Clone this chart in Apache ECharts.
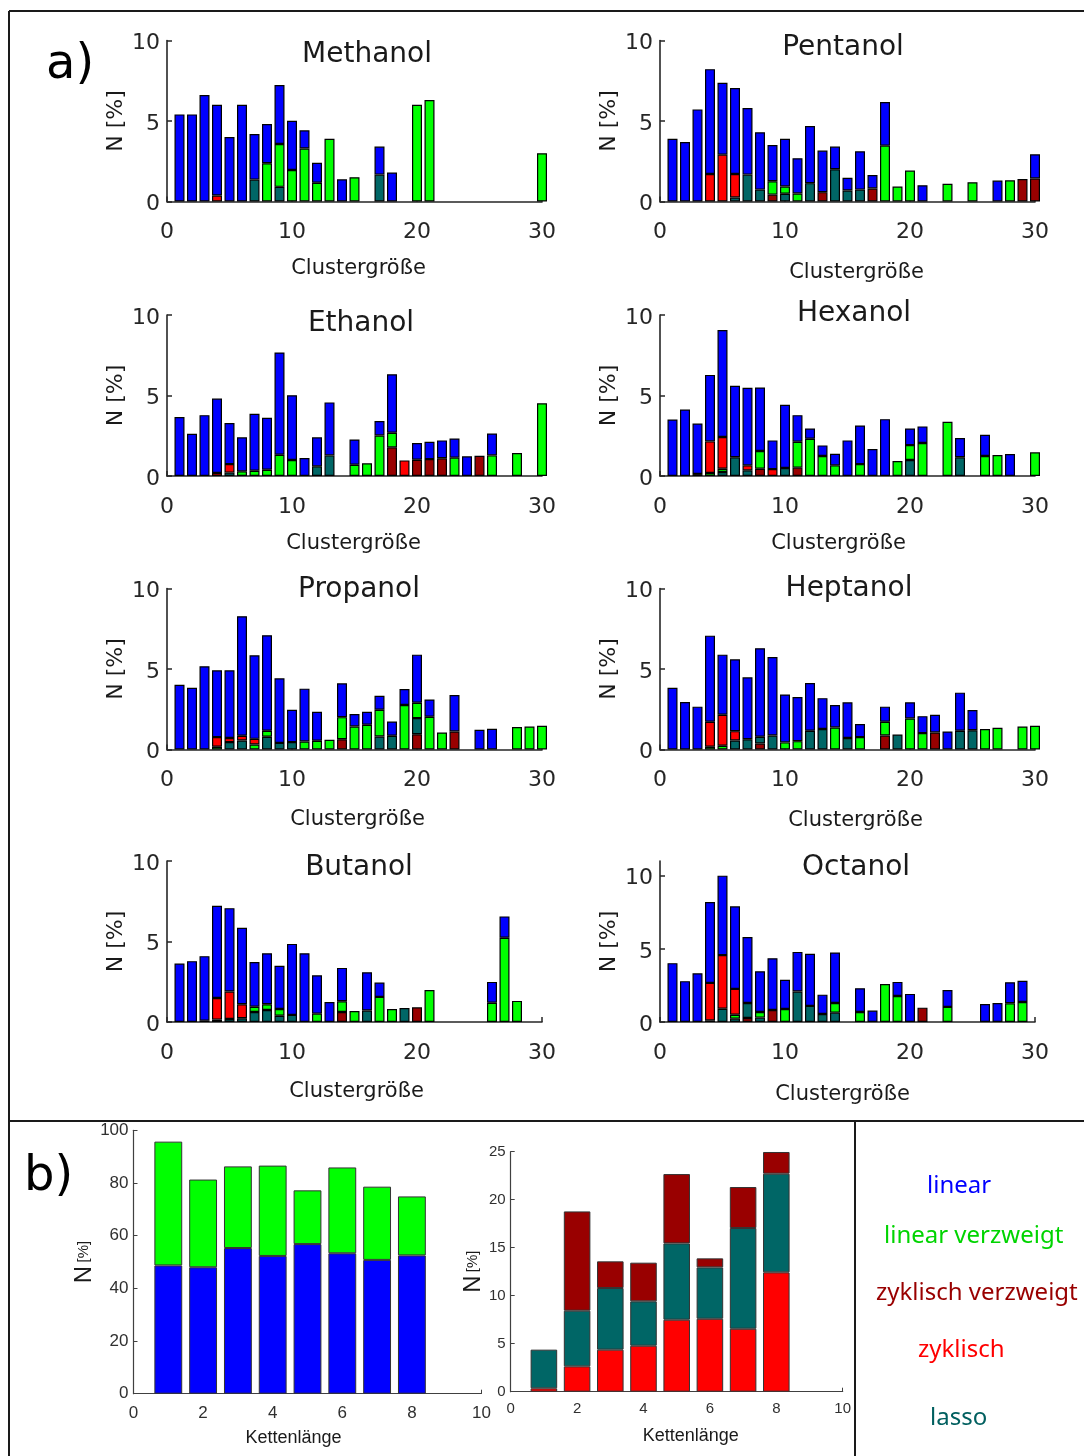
<!DOCTYPE html>
<html>
<head>
<meta charset="utf-8">
<script src="https://cdn.jsdelivr.net/npm/echarts@6/dist/echarts.min.js"></script>
<style>
  html, body { margin: 0; padding: 0; background: #fff; }
  #chart { width: 1084px; height: 1456px; }
</style>
</head>
<body>
<div id="chart"></div>
<script>
// ---------------- data ----------------
const _ = null;

// x categories: cluster size 0..30 (bars at 1..30)
const clusterSizes = ['0','1','2','3','4','5','6','7','8','9','10','11','12','13','14','15',
  '16','17','18','19','20','21','22','23','24','25','26','27','28','29','30'];

// N [%] per cluster size 1..30, one array per structure type
const methanolLinear   = [5.41,5.41,6.61,5.64,4.01,6.01,2.83,2.43,3.66,3.06,1.13,1.24,_,1.38,_,_,1.74,1.80,_,_,_,_,_,_,_,_,_,_,_,_];
const methanolLinVerz  = [_,_,_,_,_,_,_,2.38,2.66,1.96,3.29,1.16,3.90,_,1.51,_,_,_,_,6.01,6.30,_,_,_,_,_,_,_,_,3.00];
const methanolZykVerz  = [_,_,_,_,_,_,_,_,_,_,_,_,_,_,_,_,_,_,_,_,_,_,_,_,_,_,_,_,_,_];
const methanolZyklisch = [_,_,_,0.37,_,_,_,_,_,_,_,_,_,_,_,_,_,_,_,_,_,_,_,_,_,_,_,_,_,_];
const methanolLasso    = [_,_,_,_,_,_,1.36,_,0.91,_,_,_,_,_,_,_,1.67,_,_,_,_,_,_,_,_,_,_,_,_,_];

const ethanolLinear    = [3.66,2.62,3.78,4.62,2.55,2.11,3.53,3.23,6.35,4.03,1.12,1.80,3.29,_,1.57,_,0.89,3.63,_,1.04,1.08,1.11,1.19,1.22,_,1.36,_,_,_,_];
const ethanolLinVerz   = [_,_,_,_,_,0.29,0.33,0.39,1.32,0.99,_,_,_,_,0.70,0.79,2.52,0.91,_,_,_,_,1.14,_,_,1.28,_,1.43,_,4.52];
const ethanolZykVerz   = [_,_,_,_,_,_,_,_,_,_,_,_,_,_,_,_,_,1.78,_,1.01,1.05,1.10,_,_,1.26,_,_,_,_,_];
const ethanolZyklisch  = [_,_,_,0.19,0.53,_,_,_,_,_,_,_,_,_,_,_,_,_,0.97,_,_,_,_,_,_,_,_,_,_,_];
const ethanolLasso     = [_,_,_,_,0.21,_,_,_,_,_,_,0.60,1.28,_,_,_,_,_,_,_,_,_,_,_,_,_,_,_,_,_];

const propanolLinear   = [4.02,3.84,5.17,4.15,4.21,7.43,5.19,5.94,4.01,2.01,3.28,1.80,_,2.10,0.77,0.80,0.87,0.89,1.00,2.99,1.08,_,2.26,_,1.22,1.29,_,_,_,_];
const propanolLinVerz  = [_,_,_,0.17,_,_,0.31,0.37,_,_,0.50,0.54,0.60,1.37,1.43,1.54,1.66,_,2.76,0.95,2.03,1.06,_,_,_,_,_,1.39,1.43,1.47];
const propanolZykVerz  = [_,_,_,_,_,_,_,_,_,_,_,_,_,0.64,_,_,_,_,_,0.95,_,_,1.12,_,_,_,_,_,_,_];
const propanolZyklisch = [_,_,_,0.60,0.25,0.29,0.35,_,_,_,_,_,_,_,_,_,_,_,_,_,_,_,_,_,_,_,_,_,_,_];
const propanolLasso    = [_,_,_,_,0.46,0.56,_,0.79,0.41,0.46,_,_,_,_,_,_,0.81,0.85,_,1.00,_,_,_,_,_,_,_,_,_,_];

const butanolLinear    = [3.63,3.78,4.01,5.73,5.18,4.75,2.78,3.17,2.68,4.41,4.27,2.38,1.24,2.07,_,2.38,0.89,_,_,_,_,_,_,_,_,1.29,1.33,_,_,_];
const butanolLinVerz   = [_,_,_,0.15,_,_,0.33,0.35,0.42,_,_,0.52,_,0.67,0.68,_,1.56,0.81,_,_,1.99,_,_,_,_,1.20,5.23,1.31,_,_];
const butanolZykVerz   = [_,_,0.08,_,_,_,_,_,_,_,_,_,_,0.62,_,_,_,_,_,0.91,_,_,_,_,_,_,_,_,_,_];
const butanolZyklisch  = [_,_,_,1.34,1.70,0.87,_,_,_,_,_,_,_,_,_,_,_,_,_,_,_,_,_,_,_,_,_,_,_,_];
const butanolLasso     = [_,_,_,_,0.19,0.23,0.62,0.75,0.39,0.44,_,_,_,_,_,0.71,_,_,0.87,_,_,_,_,_,_,_,_,_,_,_];

const pentanolLinear   = [3.90,3.70,5.72,6.51,4.47,5.34,4.14,3.56,2.25,2.97,2.19,3.55,2.58,1.41,0.79,2.38,0.84,2.71,_,_,1.01,_,_,_,_,_,1.30,_,_,1.50];
const pentanolLinVerz  = [_,_,_,_,_,_,_,_,0.83,0.45,0.50,_,_,_,_,_,_,3.47,0.93,1.92,_,_,1.10,_,1.20,_,_,1.32,_,_];
const pentanolZykVerz  = [_,_,_,_,_,_,_,_,0.43,_,_,_,0.58,_,_,_,0.81,_,_,_,_,_,_,_,_,_,_,_,1.40,1.43];
const pentanolZyklisch = [_,_,_,1.71,2.91,1.46,_,_,_,_,_,_,_,_,_,_,_,_,_,_,_,_,_,_,_,_,_,_,_,_];
const pentanolLasso    = [_,_,_,_,_,0.25,1.67,0.74,_,0.48,_,1.14,_,2.00,0.68,0.74,_,_,_,_,_,_,_,_,_,_,_,_,_,_];

const hexanolLinear    = [3.51,4.13,3.14,4.13,6.65,4.44,4.82,3.95,1.78,3.92,1.65,0.64,0.66,0.72,2.21,2.40,1.67,3.53,_,1.03,1.03,_,_,1.20,_,1.32,_,1.36,_,_];
const hexanolLinVerz   = [_,_,_,0.19,0.20,_,_,1.10,_,_,1.61,2.31,1.24,0.66,_,0.74,_,_,0.93,0.93,2.05,_,3.37,_,_,1.24,1.30,_,_,1.47];
const hexanolZykVerz   = [_,_,0.12,_,_,_,_,0.45,_,_,0.52,_,_,_,_,_,_,_,_,_,_,_,_,_,_,_,_,_,_,_];
const hexanolZyklisch  = [_,_,_,1.96,1.97,_,0.31,_,0.43,_,_,_,_,_,_,_,_,_,_,_,_,_,_,_,_,_,_,_,_,_];
const hexanolLasso     = [_,_,_,_,0.25,1.16,0.35,_,_,0.50,_,_,_,_,_,_,_,_,_,0.99,_,_,_,1.16,_,_,_,_,_,_];

const heptanolLinear   = [3.84,2.95,2.66,5.35,3.73,4.46,3.84,5.50,4.88,2.98,2.74,2.97,1.92,1.39,2.22,0.81,_,0.94,_,1.00,1.05,1.10,1.12,2.37,1.25,_,_,_,_,_];
const heptanolLinVerz  = [_,_,_,0.17,0.23,_,_,_,_,0.44,0.52,_,_,1.37,_,0.77,_,0.85,_,1.93,1.02,_,_,_,_,1.27,1.35,_,1.43,1.47];
const heptanolZykVerz  = [_,_,_,_,_,_,_,0.37,_,_,_,_,_,_,_,_,_,0.87,_,_,_,1.06,_,_,_,_,_,_,_,_];
const heptanolZyklisch = [_,_,_,1.55,1.93,0.58,_,_,_,_,_,_,_,_,_,_,_,_,_,_,_,_,_,_,_,_,_,_,_,_];
const heptanolLasso    = [_,_,_,_,_,0.56,0.64,0.42,0.87,_,_,1.16,1.27,_,0.71,_,_,_,0.93,_,_,_,_,1.16,1.20,_,_,_,_,_];

const octanolLinear    = [4.02,2.79,3.33,5.53,5.43,5.64,4.50,2.79,3.54,1.99,2.71,3.56,1.32,3.45,_,1.63,0.78,_,0.96,1.92,_,_,1.16,_,_,1.23,1.30,1.44,1.44,_];
const octanolLinVerz   = [_,_,_,0.11,_,0.27,_,0.38,_,0.89,_,_,_,0.66,_,0.68,_,2.60,1.78,_,_,_,1.03,_,_,_,_,1.28,1.37,_];
const octanolZykVerz   = [_,_,_,_,_,_,0.27,_,0.82,_,_,_,_,_,_,_,_,_,_,_,0.98,_,_,_,_,_,_,_,_,_];
const octanolZyklisch  = [_,_,_,2.56,3.66,1.76,_,_,_,_,_,_,_,_,_,_,_,_,_,_,_,_,_,_,_,_,_,_,_,_];
const octanolLasso     = [_,_,_,_,0.91,0.23,1.03,0.30,_,_,2.08,1.10,0.55,0.64,_,_,_,_,_,_,_,_,_,_,_,_,_,_,_,_];

// b) totals per chain length 1..8
const chainLengths = ['0','1','2','3','4','5','6','7','8','9','10'];
const chainLinear    = [48.7, 48.0, 55.3, 52.3, 56.8, 53.3, 50.8, 52.5];
const chainLinVerz   = [47.0, 33.3, 31.0, 34.3, 20.4, 32.6, 27.8, 22.4];
const chainZyklisch  = [0.35, 2.64, 4.38, 4.79, 7.50, 7.60, 6.56, 12.43];
const chainLasso     = [4.03, 5.80, 6.42, 4.62, 7.95, 5.35, 10.49, 10.28];
const chainZykVerz   = [_,    10.34, 2.78, 4.03, 7.22, 0.94, 4.27, 2.26];

// ---------------- styling / layout ----------------
const colors = {
  'linear': '#0000ff',
  'linear verzweigt': '#00ff00',
  'zyklisch verzweigt': '#990000',
  'zyklisch': '#ff0000',
  'lasso': '#006666'
};
const legendColors = {
  'linear': '#0000ff',
  'linear verzweigt': '#00d400',
  'zyklisch verzweigt': '#990000',
  'zyklisch': '#ff0000',
  'lasso': '#005f5f'
};

// stacking order from the baseline upwards
const stackOrder = ['zyklisch verzweigt', 'lasso', 'linear verzweigt', 'zyklisch', 'linear'];

const panels = [
  { title: 'Methanol', values: { 'linear': methanolLinear, 'linear verzweigt': methanolLinVerz, 'zyklisch verzweigt': methanolZykVerz, 'zyklisch': methanolZyklisch, 'lasso': methanolLasso } },
  { title: 'Pentanol', values: { 'linear': pentanolLinear, 'linear verzweigt': pentanolLinVerz, 'zyklisch verzweigt': pentanolZykVerz, 'zyklisch': pentanolZyklisch, 'lasso': pentanolLasso } },
  { title: 'Ethanol',  values: { 'linear': ethanolLinear,  'linear verzweigt': ethanolLinVerz,  'zyklisch verzweigt': ethanolZykVerz,  'zyklisch': ethanolZyklisch,  'lasso': ethanolLasso } },
  { title: 'Hexanol',  values: { 'linear': hexanolLinear,  'linear verzweigt': hexanolLinVerz,  'zyklisch verzweigt': hexanolZykVerz,  'zyklisch': hexanolZyklisch,  'lasso': hexanolLasso } },
  { title: 'Propanol', values: { 'linear': propanolLinear, 'linear verzweigt': propanolLinVerz, 'zyklisch verzweigt': propanolZykVerz, 'zyklisch': propanolZyklisch, 'lasso': propanolLasso } },
  { title: 'Heptanol', values: { 'linear': heptanolLinear, 'linear verzweigt': heptanolLinVerz, 'zyklisch verzweigt': heptanolZykVerz, 'zyklisch': heptanolZyklisch, 'lasso': heptanolLasso } },
  { title: 'Butanol',  values: { 'linear': butanolLinear,  'linear verzweigt': butanolLinVerz,  'zyklisch verzweigt': butanolZykVerz,  'zyklisch': butanolZyklisch,  'lasso': butanolLasso } },
  { title: 'Octanol',  values: { 'linear': octanolLinear,  'linear verzweigt': octanolLinVerz,  'zyklisch verzweigt': octanolZykVerz,  'zyklisch': octanolZyklisch,  'lasso': octanolLasso } }
];

const panelLayout = [
  { left: 167, top: 40.5, ymax: 10, titleX: 367, titleY: 52,  xGap: 57, xDx: 4 },
  { left: 660, top: 40.5, ymax: 10, titleX: 843, titleY: 45,  xGap: 61, xDx: 9 },
  { left: 167, top: 315,  ymax: 10, titleX: 361, titleY: 321, xGap: 57, xDx: -1 },
  { left: 660, top: 315,  ymax: 10, titleX: 854, titleY: 311, xGap: 57, xDx: -9 },
  { left: 167, top: 588.5,ymax: 10, titleX: 359, titleY: 587, xGap: 60, xDx: 3 },
  { left: 660, top: 588.5,ymax: 10, titleX: 849, titleY: 586, xGap: 61, xDx: 8 },
  { left: 167, top: 861,  ymax: 10, titleX: 359, titleY: 865, xGap: 59, xDx: 2 },
  { left: 660, top: 861,  ymax: 11, titleX: 856, titleY: 865, xGap: 62, xDx: -5 }
];
const PANEL_W = 375, PANEL_H = 161;

const axisColor = '#262626';
const fontA = 'DejaVu Sans';
const fontB = 'Liberation Sans, Arial, sans-serif';

function shiftPad(dx) {
  return dx >= 0 ? [0, 0, 0, 2 * dx] : [0, -2 * dx, 0, 0];
}
const everyTenth = (idx) => idx % 10 === 0;
const everySecond = (idx) => idx % 2 === 0;

const option = {
  animation: false,
  backgroundColor: '#ffffff',
  title: [], grid: [], xAxis: [], yAxis: [], series: [], legend: [], graphic: []
};

// ---------------- a) cluster size histograms ----------------
panels.forEach((p, i) => {
  const L = panelLayout[i];
  option.grid.push({ left: L.left, top: L.top, width: PANEL_W, height: PANEL_H });
  option.title.push({
    text: p.title, left: L.titleX, top: L.titleY - 11, textAlign: 'center', padding: 0,
    textStyle: { fontFamily: fontA, fontSize: 28, fontWeight: 'normal', color: '#1a1a1a' }
  });
  option.xAxis.push({
    type: 'category', gridIndex: i, data: clusterSizes, boundaryGap: false,
    name: 'Clustergröße', nameLocation: 'middle', nameGap: L.xGap,
    nameTextStyle: { fontFamily: fontA, fontSize: 21, color: '#1a1a1a', padding: shiftPad(L.xDx) },
    axisLine: { lineStyle: { color: axisColor, width: 1.6 } },
    axisTick: { inside: true, length: 5, interval: everyTenth, lineStyle: { color: axisColor, width: 1.5 } },
    axisLabel: { interval: everyTenth, fontFamily: fontA, fontSize: 22, color: axisColor, margin: 20 },
    splitLine: { show: false }
  });
  option.yAxis.push({
    type: 'value', gridIndex: i, min: 0, max: L.ymax, interval: 5,
    name: 'N [%]', nameLocation: 'middle', nameRotate: 90, nameGap: 40,
    nameTextStyle: { fontFamily: fontA, fontSize: 22, color: '#1a1a1a' },
    axisLine: { show: true, lineStyle: { color: axisColor, width: 1.6 } },
    axisTick: { show: true, inside: true, length: 5, lineStyle: { color: axisColor, width: 1.5 } },
    axisLabel: {
      margin: 7, showMaxLabel: L.ymax === 10,
      formatter: '{v|{value}}',
      rich: { v: { fontFamily: fontA, fontSize: 22, color: axisColor, padding: [6, 0, 0, 0] } }
    },
    splitLine: { show: false }
  });
  stackOrder.forEach((kind) => {
    option.series.push({
      type: 'bar', name: kind, xAxisIndex: i, yAxisIndex: i, stack: 'cluster' + i,
      barWidth: '80%', clip: true,
      data: [null].concat(p.values[kind]),
      itemStyle: { color: colors[kind], borderColor: '#000', borderWidth: 1.2 },
      emphasis: { disabled: true }
    });
  });
});

// ---------------- b) chain length summaries ----------------
const bGrids = [
  { left: 133.5, top: 1130.3, width: 348, height: 263.4, ymax: 100, yInt: 20, fs: 17, yGap: 30, xDx: -14, lm: 11 },
  { left: 510.7, top: 1151.7, width: 332, height: 240,   ymax: 25,  yInt: 5,  fs: 15, yGap: 22, xDx: 14, lm: 10 }
];
bGrids.forEach((g, j) => {
  const gi = panels.length + j;
  option.grid.push({ left: g.left, top: g.top, width: g.width, height: g.height });
  option.xAxis.push({
    type: 'category', gridIndex: gi, data: chainLengths, boundaryGap: false,
    name: 'Kettenlänge', nameLocation: 'middle', nameGap: 35,
    nameTextStyle: { fontFamily: fontB, fontSize: 18, color: '#1a1a1a', padding: shiftPad(g.xDx) },
    axisLine: { lineStyle: { color: '#404040', width: 1.2 } },
    axisTick: { inside: true, length: 4, interval: everySecond, lineStyle: { color: '#404040' } },
    axisLabel: { interval: everySecond, fontFamily: fontB, fontSize: g.fs, color: '#303030', margin: g.lm },
    splitLine: { show: false }
  });
  option.yAxis.push({
    type: 'value', gridIndex: gi, min: 0, max: g.ymax, interval: g.yInt,
    name: '{n|N} {p|[%]}', nameLocation: 'middle', nameRotate: 90, nameGap: g.yGap,
    nameTextStyle: { fontFamily: fontB, color: '#1a1a1a', rich: { n: { fontSize: 24, fontFamily: fontB }, p: { fontSize: 15, fontFamily: fontB } } },
    axisLine: { show: true, lineStyle: { color: '#404040', width: 1.2 } },
    axisTick: { show: true, inside: true, length: 4, lineStyle: { color: '#404040' } },
    axisLabel: { fontFamily: fontB, fontSize: g.fs, color: '#303030', margin: 5 },
    splitLine: { show: false }
  });
});

function chainSeries(name, values, gi) {
  return {
    type: 'bar', name: name, xAxisIndex: gi, yAxisIndex: gi, stack: 'chain' + gi,
    barWidth: '80%', data: [null].concat(values, [null, null]),
    itemStyle: { color: colors[name], borderColor: '#333', borderWidth: 1 },
    emphasis: { disabled: true }
  };
}
option.series.push(
  chainSeries('linear', chainLinear, 8),
  chainSeries('linear verzweigt', chainLinVerz, 8),
  chainSeries('zyklisch', chainZyklisch, 9),
  chainSeries('lasso', chainLasso, 9),
  chainSeries('zyklisch verzweigt', chainZykVerz, 9)
);

// ---------------- legend (coloured names only) ----------------
const legendNames = ['linear', 'linear verzweigt', 'zyklisch verzweigt', 'zyklisch', 'lasso'];
const legendSpots = [[922, 1189], [879, 1239], [871, 1296], [913, 1353], [925, 1421]];
legendNames.forEach((name, k) => {
  option.legend.push({
    data: [{ name: name, textStyle: { color: legendColors[name] } }],
    left: legendSpots[k][0], top: legendSpots[k][1] - 15, padding: 0,
    icon: 'none', itemWidth: 0, itemHeight: 0, selectedMode: false,
    textStyle: { fontFamily: 'Noto Sans', fontSize: 24 }
  });
});

// ---------------- frame and panel letters ----------------
const frameStyle = { stroke: '#1a1a1a', lineWidth: 2 };
option.graphic = [
  { type: 'line', shape: { x1: 9, y1: 11, x2: 1084, y2: 11 }, style: frameStyle },
  { type: 'line', shape: { x1: 9, y1: 11, x2: 9, y2: 1456 }, style: frameStyle },
  { type: 'line', shape: { x1: 9, y1: 1121, x2: 1084, y2: 1121 }, style: frameStyle },
  { type: 'line', shape: { x1: 855, y1: 1121, x2: 855, y2: 1456 }, style: frameStyle },
  { type: 'text', left: 46, top: 42, style: { text: 'a)', font: '48px DejaVu Sans', fill: '#000' } },
  { type: 'text', left: 24, top: 1154, style: { text: 'b)', font: '48px DejaVu Sans', fill: '#000' } }
];

const chart = echarts.init(document.getElementById('chart'), null, { renderer: 'canvas' });
chart.setOption(option);
</script>
</body>
</html>
